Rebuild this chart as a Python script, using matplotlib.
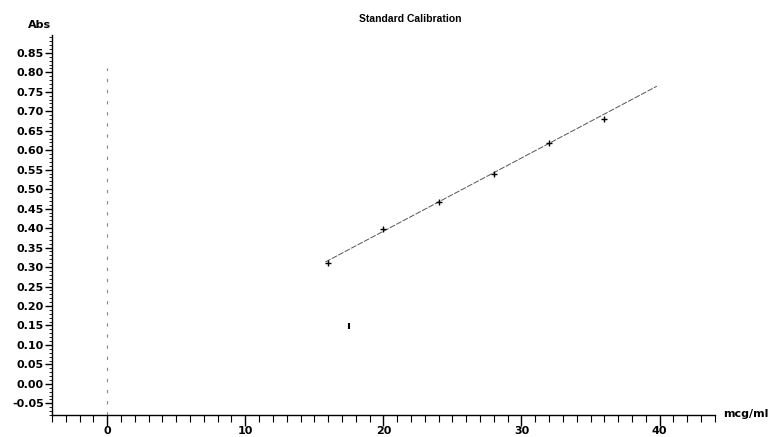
import matplotlib
matplotlib.use("Agg")
import matplotlib.pyplot as plt
import numpy as np
from matplotlib.ticker import MultipleLocator

plt.rcParams['font.family'] = ['DejaVu Sans']

# Standards (concentration mcg/ml, absorbance)
conc = [16, 20, 24, 28, 32, 36]
absb = [0.311, 0.398, 0.467, 0.539, 0.619, 0.680]
# excluded point
out_conc = [17.5]
out_abs = [0.149]
# calibration line endpoints (fit)
line_x = [15.8, 39.8]
slope = 0.0188
intercept = 0.016
# zero reference line extent
zero_y = [-0.08, 0.81]

yticks = np.round(np.arange(-0.05, 0.851, 0.05), 2)
xticks = [0, 10, 20, 30, 40]

fig = plt.figure(figsize=(7.68, 4.37), dpi=100)
ax = fig.add_axes([0.0677, 0.0503, 0.863, 0.8697])

ax.set_xlim(-4, 44)
ax.set_ylim(-0.080, 0.896)

ax.plot([0, 0], zero_y, color='#888888', lw=0.8, ls=(0, (3, 7)))

lx = np.array(line_x)
ax.plot(lx, slope * lx + intercept, color='#555555', lw=0.7, ls=(0, (6, 1.5)))
ax.plot(conc, absb, ls='none', marker='+', color='black', ms=5, mew=1.0)
ax.plot(out_conc, out_abs, ls='none', marker='|', color='black', ms=4, mew=1.5)

for s in ['top', 'right']:
    ax.spines[s].set_visible(False)
for s in ['left', 'bottom']:
    ax.spines[s].set_linewidth(1.0)

ax.xaxis.set_minor_locator(MultipleLocator(1))
ax.yaxis.set_minor_locator(MultipleLocator(0.01))
ax.set_xticks(xticks)
ax.set_xticklabels([str(v) for v in xticks])
ax.set_yticks(yticks)
ax.set_yticklabels([f"{v:.2f}" for v in yticks])

ax.tick_params(axis='x', which='major', direction='out', length=8, width=1, labelsize=8, pad=0)
ax.tick_params(axis='x', which='minor', direction='out', length=5, width=0.8)
ax.tick_params(axis='y', which='major', direction='out', length=5, width=1, labelsize=8, pad=1)
ax.tick_params(axis='y', which='minor', direction='out', length=2, width=0.6)
for lab in ax.get_xticklabels() + ax.get_yticklabels():
    lab.set_fontweight('bold')

fig.text(0.534, 0.957, "Standard Calibration", ha='center', va='center', fontsize=7.5,
         fontweight='bold', family='Liberation Sans')
fig.text(0.066, 0.942, "Abs", ha='right', va='center', fontsize=8, fontweight='bold')
fig.text(0.941, 0.053, "mcg/ml", ha='left', va='center', fontsize=8, fontweight='bold')

fig.savefig("out.png", dpi=100)
